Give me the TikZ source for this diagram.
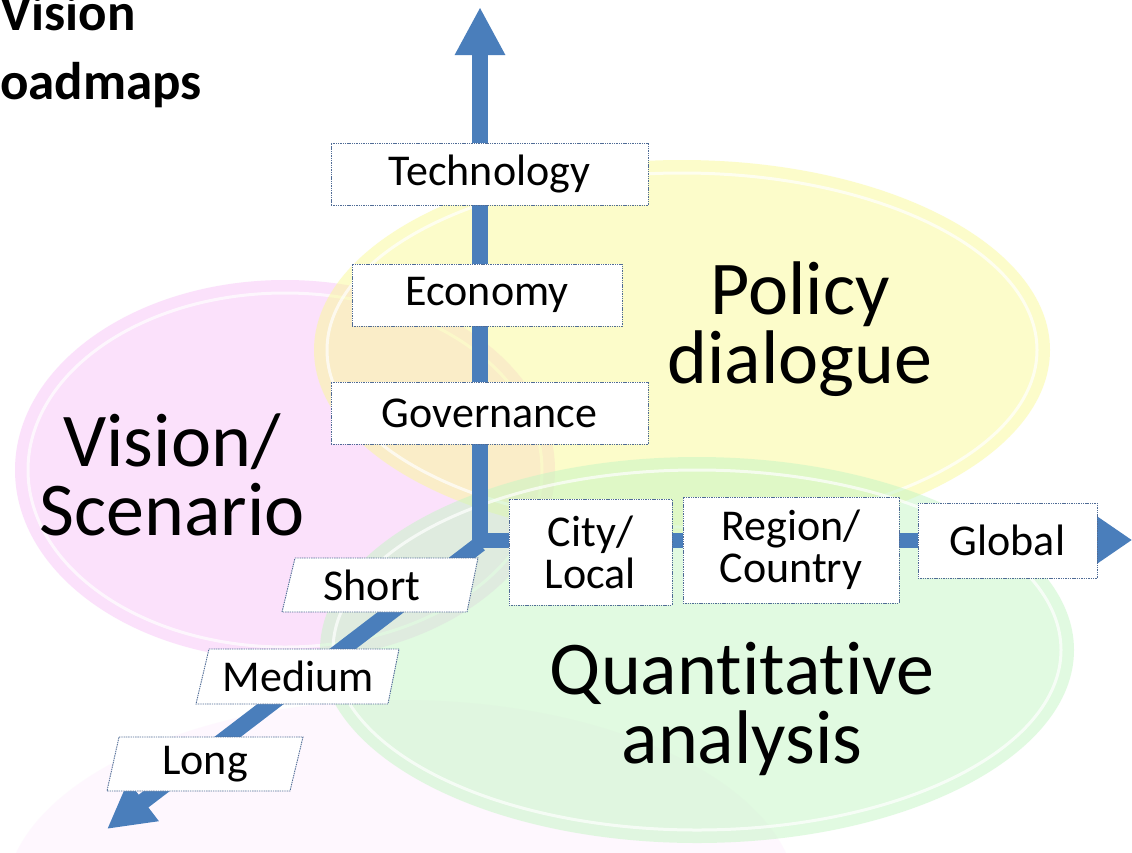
\documentclass[tikz,border=0pt]{standalone}
\usepackage{fontspec}
\setmainfont{Carlito}[Ligatures={NoCommon}]
\usetikzlibrary{arrows.meta}
\definecolor{axisblue}{RGB}{74,126,187}
\definecolor{boxline}{RGB}{80,108,150}
\definecolor{pinkfill}{RGB}{248,196,248}
\definecolor{yellowfill}{RGB}{250,250,150}
\definecolor{greenfill}{RGB}{196,246,196}
\tikzset{
  blob/.style={fill opacity=0.5},
  rim/.style={draw=white, line width=3pt, draw opacity=0.7},
  axisline/.style={draw=axisblue, line width=16pt},
  lbl/.style={draw=boxline, fill=white, line width=0.9pt, dash pattern=on 1.4pt off 0.9pt,
    font=\fontsize{44}{42}\selectfont, align=center, inner sep=0pt},
  para/.style={draw=boxline, fill=white, line width=0.9pt, dash pattern=on 1.4pt off 0.9pt},
  plain/.style={font=\fontsize{44}{42}\selectfont, inner sep=0pt},
  big/.style={font=\fontsize{76}{69}\selectfont, inner sep=0pt, anchor=base, align=center},
  corner/.style={font=\bfseries\fontsize{53}{69}\selectfont, inner sep=0pt, anchor=base west, align=left}
}
\begin{document}
\begin{tikzpicture}[x=1pt,y=-1pt]
\useasboundingbox (0,0) rectangle (1132,852);
\fill[white] (0,0) rectangle (1132,852);

% soft coloured ellipses
\fill[pinkfill, fill opacity=0.13] (401,900) ellipse [x radius=396pt, y radius=200pt];
\fill[pinkfill, blob] (285,470) ellipse [x radius=270pt, y radius=190pt];
\draw[rim] (285,470) ellipse [x radius=257pt, y radius=177pt];
\fill[yellowfill, blob] (682,350) ellipse [x radius=368pt, y radius=190pt];
\draw[rim] (682,350) ellipse [x radius=355pt, y radius=177pt];
\fill[greenfill, blob] (697,650) ellipse [x radius=377pt, y radius=193pt];
\draw[rim] (697,650) ellipse [x radius=364pt, y radius=180pt];

% corner title (base anchor = last line)
\node[corner] (title) at (0,99) {Vision\\oadmaps};

% big labels (base anchor = last line)
\node[big] (vis) at (172,535) {Vision/\\Scenario};
\node[big] (pol) at (800,383) {Policy\\dialogue};
\node[big] (qa) at (742,763) {Quantitative\\analysis};

% axes
\coordinate (O) at (480,544);
\coordinate (Oh) at (472,540);
\coordinate (ytip) at (480,7);
\coordinate (xtip) at (1132,540);
\coordinate (ztip) at (107,829);
\draw[axisline, -{Triangle[width=47pt,length=48pt]}] (O) -- (ytip);
\draw[axisline, line width=15pt, -{Triangle[width=45pt,length=35pt]}] (Oh) -- (xtip);
\draw[axisline, -{Triangle[width=47pt,length=46pt]}] (O) -- (ztip);

% vertical axis boxes
\node[lbl, minimum width=317pt, minimum height=62pt] (tech) at (489.5,174) {Technology};
\node[lbl, minimum width=270pt, minimum height=62pt] (econ) at (487,295) {Economy};
\node[lbl, minimum width=317pt, minimum height=62pt] (gov) at (489.5,413) {Governance};

% horizontal axis boxes
\node[lbl, minimum width=163pt, minimum height=106pt] (city) at (590.5,552) {City/\\Local};
\node[lbl, minimum width=216pt, minimum height=106pt] (region) at (791,550) {Region/\\Country};
\node[lbl, minimum width=179pt, minimum height=75pt] (global) at (1007.5,540.5) {Global};

% diagonal axis boxes
\draw[para] (295,558) -- (478,558) -- (467,612) -- (282,612) -- cycle;
\node[plain] (short) at (372,585) {Short};
\draw[para] (209,649) -- (399,649) -- (388,704) -- (196,704) -- cycle;
\node[plain] (medium) at (298,676.5) {Medium};
\draw[para] (119,737) -- (303,737) -- (290,791) -- (107,791) -- cycle;
\node[plain] (long) at (205,764) {Long};
\end{tikzpicture}
\end{document}
